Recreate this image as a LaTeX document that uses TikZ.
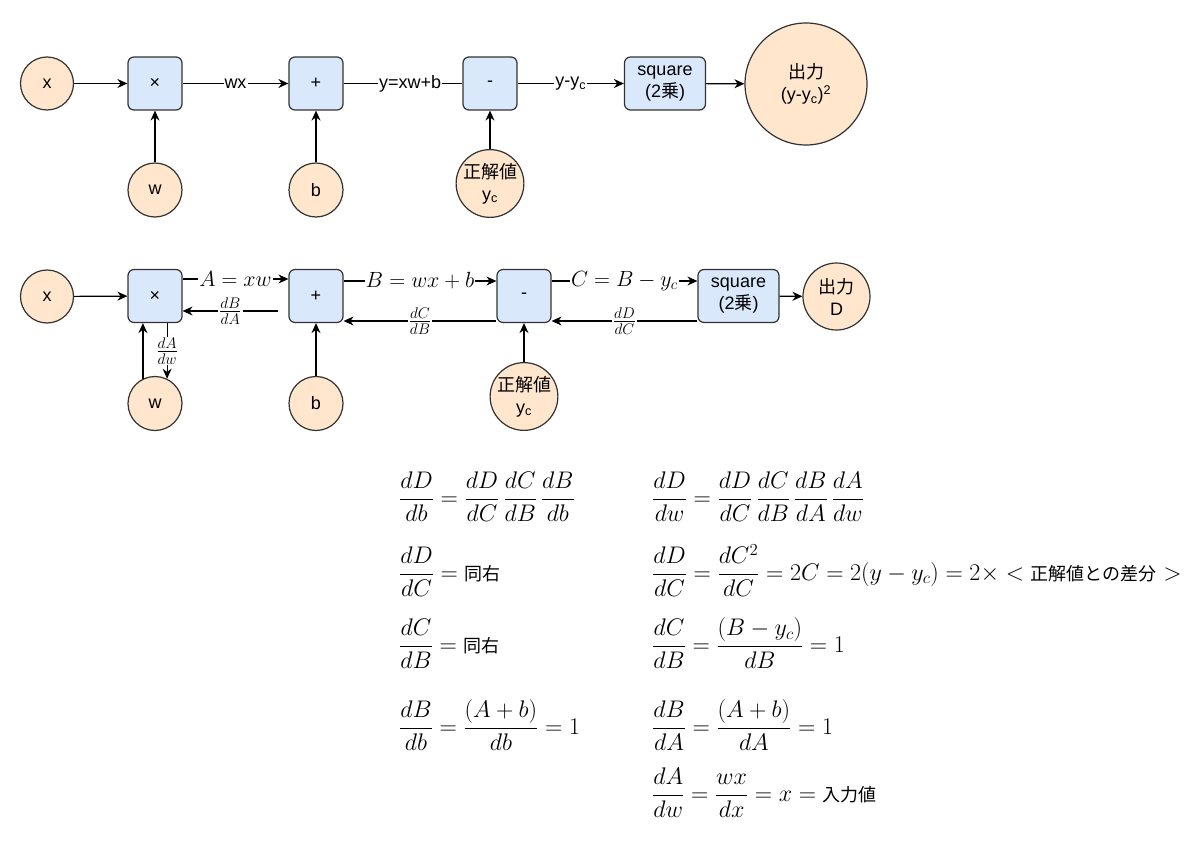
\documentclass[tikz,border=0pt]{standalone}
\usepackage{fix-cm}
\usepackage{amsmath}
\usepackage[no-math]{fontspec}
\newfontfamily\arial{Liberation Sans}
\newfontfamily\cjk{Noto Sans CJK JP}
\usetikzlibrary{arrows.meta}
\definecolor{opblue}{HTML}{DAE8FC}
\definecolor{varorange}{HTML}{FFE6CC}
\tikzset{
  op/.style={draw=black!80, fill=opblue, rounded corners=6pt, minimum width=54pt, minimum height=53pt,
    inner sep=0pt, line width=1.2pt, font=\arial\fontsize{18}{22}\selectfont, align=center},
  var/.style={circle, draw=black!80, fill=varorange, inner sep=0pt, line width=1.2pt,
    font=\arial\fontsize{18}{22}\selectfont, align=center},
  conn/.style={line width=1.2pt, -{Stealth[length=10pt,width=9pt]}},
  plain/.style={line width=1.2pt},
  lbl/.style={fill=white, inner sep=1pt, font=\arial\fontsize{18}{22}\selectfont},
  mlbl/.style={fill=white, inner sep=1pt, font=\fontsize{22}{26}\selectfont},
  eq/.style={inner sep=0pt, anchor=base west, font=\fontsize{24}{29}\selectfont},
}
\newcommand{\jt}[1]{\text{\cjk\fontsize{18}{22}\selectfont #1}}
\begin{document}
\begin{tikzpicture}[x=1pt,y=-1pt]
\useasboundingbox[fill=white] (0,0) rectangle (1200,864);

% ---------- top row ----------
\node[var, minimum size=53pt] (x1) at (47,83.5) {x};
\node[op] (mul1) at (155,83.5) {×};
\node[op] (add1) at (316,83.5) {+};
\node[op] (sub1) at (490,83.5) {-};
\node[op, minimum width=81pt] (sq1) at (665,83.5) {square\\(2{\cjk 乗})};
\node[var, minimum size=122pt] (out1) at (806,84) {{\cjk 出力}\\(y-y\textsubscript{c})\textsuperscript{2}};
\node[var, minimum size=54pt] (w1) at (155,190) {w};
\node[var, minimum size=54pt] (b1) at (316,190) {b};
\node[var, minimum size=67pt] (t1) at (490,183.5) {{\cjk 正解値}\\y\textsubscript{c}};

\draw[conn] (x1) -- (mul1);
\draw[conn] (mul1) -- (add1) node[midway, lbl] {wx};
\draw[plain] (add1) -- (sub1) node[pos=0.56, lbl] {y=xw+b};
\draw[conn] (sub1) -- (sq1) node[midway, lbl] {y-y\textsubscript{c}};
\draw[conn] (sq1) -- (out1);
\draw[conn] (w1) -- (mul1);
\draw[conn] (b1) -- (add1);
\draw[conn] (t1) -- (sub1);

% ---------- second row ----------
\node[var, minimum size=53pt] (x2) at (47,296.5) {x};
\node[op] (mul2) at (155,296) {×};
\node[op] (add2) at (316,296) {+};
\node[op] (sub2) at (524,296) {-};
\node[op, minimum width=81pt] (sq2) at (738.5,296) {square\\(2{\cjk 乗})};
\node[var, minimum size=67pt] (out2) at (836.5,296.5) {{\cjk 出力}\\D};
\node[var, minimum size=54pt] (w2) at (155,403.5) {w};
\node[var, minimum size=54pt] (b2) at (316,403.5) {b};
\node[var, minimum size=67pt] (t2) at (524,396.5) {{\cjk 正解値}\\y\textsubscript{c}};

\draw[conn] (x2) -- (mul2);
\draw[conn] ([yshift=17pt]mul2.east) -- ([yshift=17pt]add2.west) node[midway, mlbl] {$A = xw$};
\draw[conn] ([yshift=15pt]add2.east) -- ([yshift=15pt]sub2.west) node[midway, mlbl] {$B = wx + b$};
\draw[conn] ([yshift=15pt]sub2.east) -- ([yshift=15pt]sq2.west) node[midway, mlbl] {$C = B - y_c$};
\draw[conn] (sq2) -- (out2);

\coordinate (bA) at (278,311);
\draw[conn] (bA) -- (bA -| mul2.east) node[midway, mlbl] {$\frac{dB}{dA}$};
\draw[conn] ([yshift=-25pt]sub2.west) -- ([yshift=-25pt]add2.east) node[midway, mlbl] {$\frac{dC}{dB}$};
\draw[conn] ([yshift=-25pt]sq2.west) -- ([yshift=-25pt]sub2.east) node[midway, mlbl] {$\frac{dD}{dC}$};

\draw[conn] (w2.116) -- (w2.116 |- mul2.south);
\draw[conn] (mul2.south -| w2.64) -- (w2.64) node[pos=0.5, mlbl, inner sep=0.5pt] {$\frac{dA}{dw}$};
\draw[conn] (b2) -- (add2);
\draw[conn] (t2) -- (sub2);

% ---------- equations ----------
\node[eq] (l1) at (399,505) {$\displaystyle\frac{dD}{db}=\frac{dD}{dC}\,\frac{dC}{dB}\,\frac{dB}{db}$};
\node[eq] (l2) at (399,580) {$\displaystyle\frac{dD}{dC}=\jt{同右}$};
\node[eq] (l3) at (399,652) {$\displaystyle\frac{dC}{dB}=\jt{同右}$};
\node[eq] (l4) at (399,734) {$\displaystyle\frac{dB}{db}=\frac{(A+b)}{db}=1$};

\node[eq] (r1) at (652,505) {$\displaystyle\frac{dD}{dw}=\frac{dD}{dC}\,\frac{dC}{dB}\,\frac{dB}{dA}\,\frac{dA}{dw}$};
\node[eq] (r2) at (652,580) {$\displaystyle\frac{dD}{dC}=\frac{dC^2}{dC}=2C=2(y-y_c)=2\times<\jt{正解値との差分}>$};
\node[eq] (r3) at (652,652) {$\displaystyle\frac{dC}{dB}=\frac{(B-y_c)}{dB}=1$};
\node[eq] (r4) at (652,734) {$\displaystyle\frac{dB}{dA}=\frac{(A+b)}{dA}=1$};
\node[eq] (r5) at (652,801) {$\displaystyle\frac{dA}{dw}=\frac{wx}{dx}=x=\jt{入力値}$};
\end{tikzpicture}
\end{document}
